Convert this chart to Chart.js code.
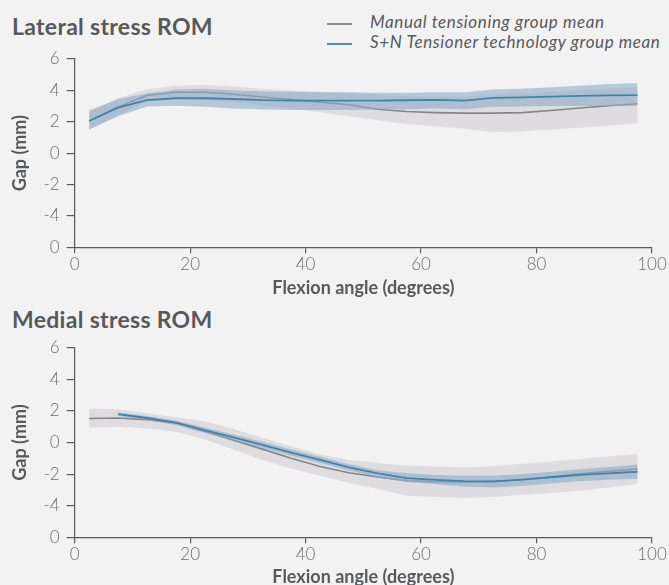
<!DOCTYPE html>
<html>
<head>
<meta charset="utf-8">
<script src="https://cdn.jsdelivr.net/npm/chart.js@4.4.1/dist/chart.umd.min.js"></script>
<style>
  html, body { margin: 0; padding: 0; background: #f2f2f2; overflow: hidden; }
  #page { position: relative; width: 669px; height: 585px; font-family: Lato, "Open Sans", sans-serif; }
  canvas { position: absolute; left: 0; }
  .title { position: absolute; left: 12px; font-weight: bold; font-size: 23px; letter-spacing: 0.3px; color: #58595b; line-height: 26px; }
  .legend { position: absolute; left: 327px; top: 12px; font-style: italic; font-size: 17px; letter-spacing: 0.6px; color: #58595b; }
  .legend div { height: 20px; line-height: 20px; white-space: nowrap; }
  .legend span { display: inline-block; width: 25px; height: 2px; vertical-align: middle; margin-right: 18px; }
</style>
</head>
<body>
<div id="page">
  <div class="title" style="top:13px">Lateral stress ROM</div>
  <div class="legend">
    <div><span style="background:#8c8c8c"></span>Manual tensioning group mean</div>
    <div><span style="background:#4a8ab5"></span>S+N Tensioner technology group mean</div>
  </div>
  <div class="title" style="top:306px">Medial stress ROM</div>
  <canvas id="lateral" width="669" height="300" style="top:0"></canvas>
  <canvas id="medial" width="669" height="305" style="top:288px"></canvas>
</div>
<script>
const angles = [2.5, 7.5, 12.5, 17.5, 22.5, 27.5, 32.5, 37.5, 42.5, 47.5, 52.5, 57.5, 62.5, 67.5, 72.5, 77.5, 82.5, 87.5, 92.5, 97.5];
const xTicks = [0, 20, 40, 60, 80, 100];
const yTicks = [6, 4, 2, 0, -2, -4, -6];
const yTickLabels = ['6', '4', '2', '0', '-2', '-4', '0'];

// Lateral stress ROM
const latManual = [2.05, 2.95, 3.67, 3.88, 3.88, 3.75, 3.58, 3.42, 3.25, 3.08, 2.8, 2.65, 2.58, 2.55, 2.55, 2.58, 2.72, 2.88, 3.02, 3.15];
const latManualHi = [2.6, 3.5, 4.05, 4.3, 4.35, 4.25, 4.1, 4.0, 3.9, 3.8, 3.7, 3.65, 3.6, 3.6, 3.7, 3.8, 3.9, 4.0, 4.1, 4.2];
const latManualLo = [1.5, 2.4, 3.3, 3.45, 3.4, 3.25, 3.05, 2.85, 2.6, 2.35, 2.1, 1.85, 1.72, 1.55, 1.35, 1.38, 1.5, 1.62, 1.75, 1.9];
const latSN = [2.05, 2.9, 3.38, 3.5, 3.5, 3.45, 3.38, 3.35, 3.35, 3.35, 3.35, 3.37, 3.4, 3.35, 3.52, 3.55, 3.6, 3.65, 3.68, 3.7];
const latSNHi = [2.72, 3.45, 3.8, 4.05, 4.1, 4.0, 3.95, 3.92, 3.9, 3.88, 3.85, 3.85, 3.88, 3.88, 4.05, 4.1, 4.2, 4.3, 4.4, 4.45];
const latSNLo = [1.5, 2.35, 2.98, 3.02, 2.95, 2.85, 2.78, 2.75, 2.75, 2.75, 2.78, 2.8, 2.85, 2.8, 2.95, 2.98, 3.0, 3.0, 3.0, 3.0];

// Medial stress ROM
const medManual = [1.52, 1.55, 1.45, 1.25, 0.72, 0.15, -0.42, -1.0, -1.52, -1.92, -2.18, -2.42, -2.48, -2.5, -2.48, -2.36, -2.18, -1.98, -1.83, -1.68];
const medManualHi = [2.14, 2.1, 1.85, 1.6, 1.35, 0.85, 0.3, -0.25, -0.75, -1.1, -1.3, -1.45, -1.52, -1.57, -1.5, -1.35, -1.2, -1.04, -0.88, -0.72];
const medManualLo = [0.93, 1.0, 0.9, 0.68, 0.2, -0.45, -1.1, -1.65, -2.1, -2.55, -2.95, -3.37, -3.45, -3.52, -3.45, -3.3, -3.2, -3.05, -2.85, -2.63];
const medSN = [null, 1.8, 1.55, 1.25, 0.78, 0.32, -0.15, -0.64, -1.1, -1.57, -1.95, -2.25, -2.37, -2.45, -2.46, -2.35, -2.2, -2.05, -1.95, -1.85];
const medSNHi = [null, 1.9, 1.68, 1.4, 0.95, 0.5, 0.05, -0.45, -0.9, -1.38, -1.75, -1.95, -2.05, -2.1, -2.1, -2.0, -1.85, -1.7, -1.55, -1.4];
const medSNLo = [null, 1.7, 1.42, 1.1, 0.6, 0.12, -0.35, -0.85, -1.3, -1.78, -2.2, -2.5, -2.65, -2.8, -2.85, -2.75, -2.6, -2.45, -2.35, -2.3];

const grey = '#858585';
const blue = '#3f84ae';
const greyBand = 'rgba(212,208,214,0.65)';
const blueBand = 'rgba(140,170,200,0.6)';
const axisColor = '#58595b';
const tickColor = '#6d6e71';

function pts(vals) {
  return angles.map((a, i) => ({ x: a, y: vals[i] })).filter(p => p.y !== null);
}

function makeChart(id, mean1, hi1, lo1, mean2, hi2, lo2, xHeight, titlePad) {
  const c = document.getElementById(id);
  return new Chart(c, {
    type: 'line',
    data: {
      datasets: [
        { data: pts(lo1), borderWidth: 0, pointRadius: 0, fill: false, order: 5 },
        { data: pts(hi1), borderWidth: 0, pointRadius: 0, fill: 0, backgroundColor: greyBand, order: 4 },
        { data: pts(mean1), borderColor: grey, borderWidth: 1.6, pointRadius: 0, fill: false, order: 3 },
        { data: pts(lo2), borderWidth: 0, pointRadius: 0, fill: false, order: 2.5 },
        { data: pts(hi2), borderWidth: 0, pointRadius: 0, fill: 3, backgroundColor: blueBand, order: 2 },
        { data: pts(mean2), borderColor: blue, borderWidth: 1.8, pointRadius: 0, fill: false, order: 1 }
      ]
    },
    options: {
      responsive: false,
      animation: false,
      devicePixelRatio: 1,
      layout: { padding: { top: id === 'lateral' ? 59 : 59.7, right: 17, left: 0, bottom: 0 } },
      plugins: { legend: { display: false }, tooltip: { enabled: false } },
      scales: {
        x: {
          type: 'linear', min: 0, max: 100,
          afterBuildTicks: s => { s.ticks = xTicks.map(v => ({ value: v })); },
          afterFit: s => { s.height = xHeight; },
          grid: { drawOnChartArea: false, drawTicks: true, tickLength: 6, color: axisColor, lineWidth: 1.2 },
          border: { color: axisColor, width: 1.2 },
          ticks: { color: tickColor, font: { family: 'Lato', size: 17, weight: 300 }, padding: 1 },
          title: { display: true, text: 'Flexion angle (degrees)', color: axisColor,
                   font: { family: 'Lato', size: 18, weight: 'bold', lineHeight: 1.2 }, padding: { top: 0, bottom: titlePad } }
        },
        y: {
          min: -6, max: 6,
          afterBuildTicks: s => { s.ticks = yTicks.map(v => ({ value: v })); },
          afterFit: s => { s.width = 74.7; },
          grid: { drawOnChartArea: false, drawTicks: true, tickLength: 8, color: axisColor, lineWidth: 1.2 },
          border: { color: axisColor, width: 1.2 },
          ticks: { color: tickColor, font: { family: 'Lato', size: 17, weight: 300 }, padding: 7,
                   callback: v => yTickLabels[yTicks.indexOf(v)] },
          title: { display: true, text: 'Gap (mm)', color: axisColor,
                   font: { family: 'Lato', size: 18, weight: 'bold', lineHeight: 1.2 }, padding: { top: 9, bottom: 0 } }
        }
      }
    }
  });
}

makeChart('lateral', latManual, latManualHi, latManualLo, latSN, latSNHi, latSNLo, 52.7, 1);
makeChart('medial', medManual, medManualHi, medManualLo, medSN, medSNHi, medSNLo, 55.7, 5);
</script>
</body>
</html>
